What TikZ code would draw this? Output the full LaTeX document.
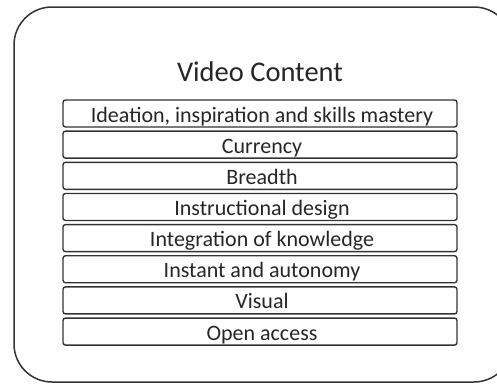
\documentclass[tikz,border=0pt]{standalone}
\usepackage{fontspec}
\setmainfont{Carlito}
\tikzset{
  outer/.style={draw=black!80, line width=1.5pt, rounded corners=38pt},
  itembox/.style={draw=black!80, line width=1.4pt, rounded corners=2.5pt, minimum width=394pt, minimum height=27pt, inner sep=0pt},
  itemtext/.style={anchor=base, font=\fontsize{22pt}{24pt}\selectfont, text=black!85, inner sep=0pt},
  titletext/.style={anchor=base, font=\fontsize{28.5pt}{32pt}\selectfont, text=black!85, inner sep=0pt}
}
\begin{document}
\begin{tikzpicture}[x=1pt,y=-1pt]
\useasboundingbox (0,0) rectangle (497,383);
\begin{scope}
\clip (0,0) rectangle (497,383);
\draw[outer] (14,7) rectangle (512,382);
\end{scope}
\node[titletext] (title) at (260,81) {Video Content};
\foreach \i/\t in {0/{Ideation, inspiration and skills mastery},1/Currency,2/Breadth,3/Instructional design,4/Integration of knowledge,5/Instant and autonomy,6/Visual,7/Open access}{
  \pgfmathsetmacro{\top}{100+31.15*\i}
  \node[itembox] (box\i) at (260,\top+13.5) {};
  \node[itemtext] (txt\i) at (262,\top+22) {\t};
}
\end{tikzpicture}
\end{document}
